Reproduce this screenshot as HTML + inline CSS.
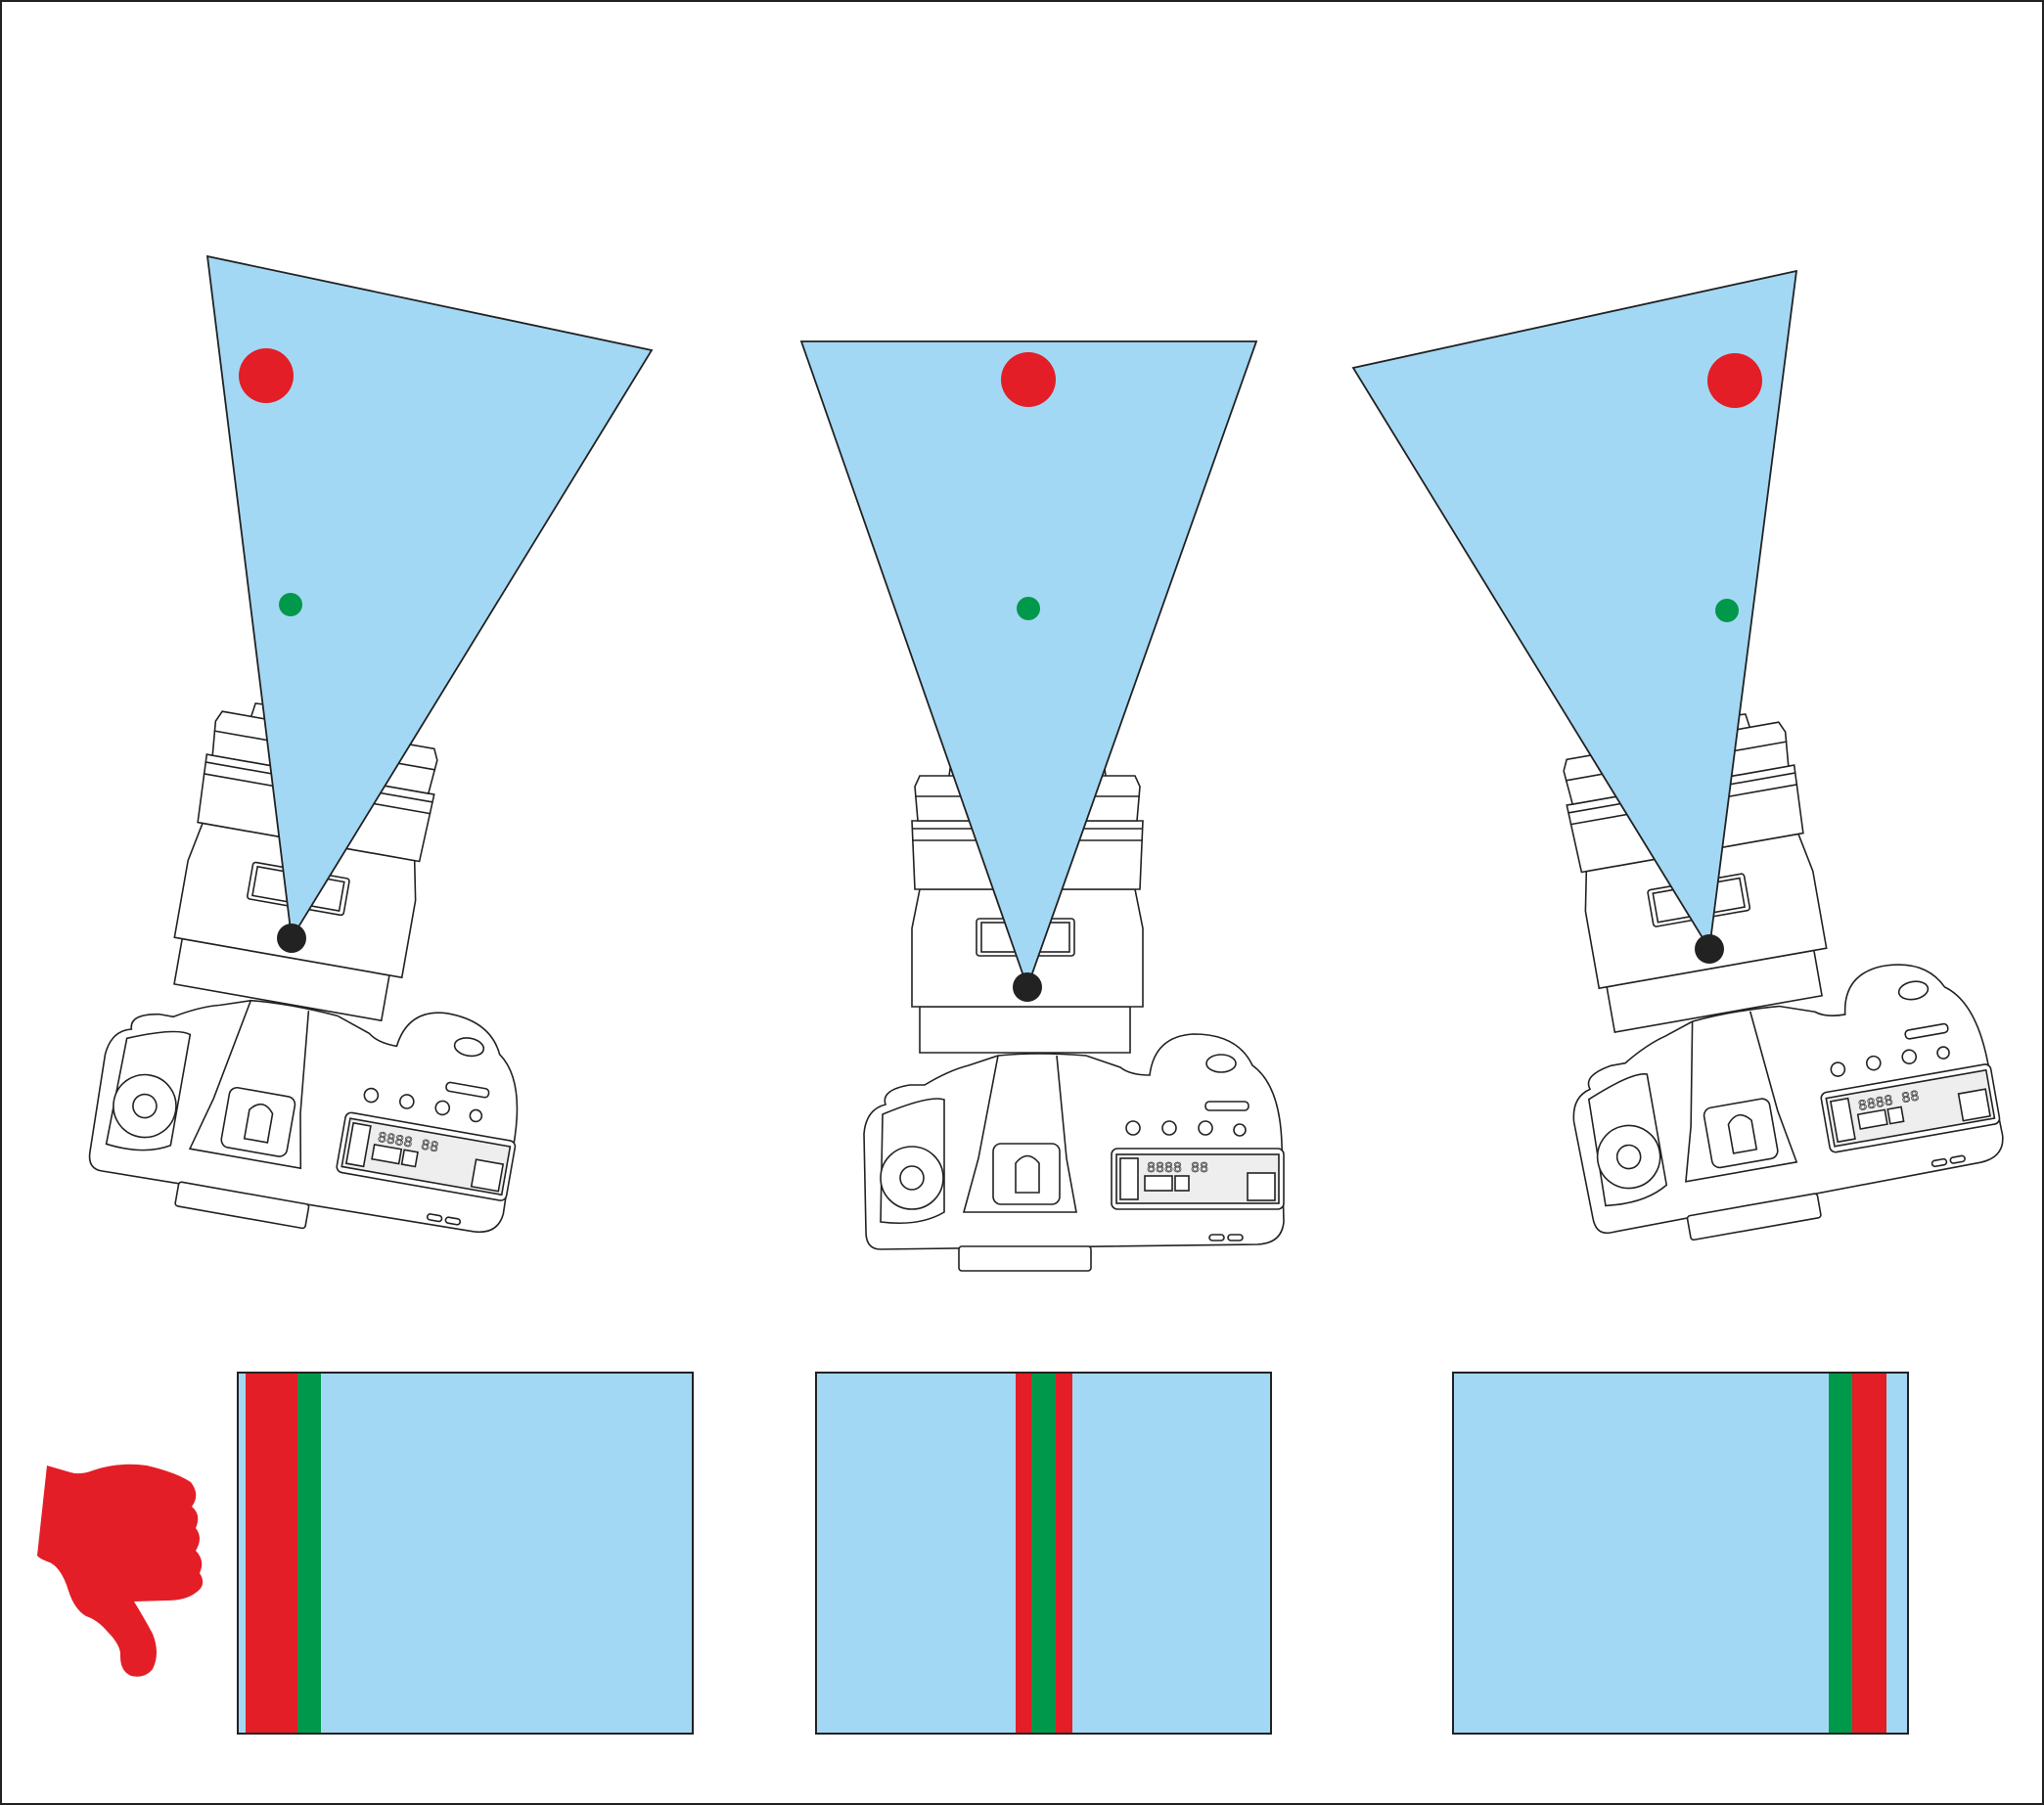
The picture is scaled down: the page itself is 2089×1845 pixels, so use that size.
<!DOCTYPE html>
<html><head><meta charset="utf-8"><style>
html,body{margin:0;padding:0;background:#fff}
svg{display:block}
</style></head><body>
<svg width="2089" height="1845" viewBox="0 0 2089 1845" xmlns="http://www.w3.org/2000/svg">
<defs>
<g id="cam" fill="#fff" stroke="#222" stroke-width="1.6">
  <path d="M-145,120 Q-150,105 -120,100 L-105,100 Q-80,85 -60,80 L-30,70 Q10,66 60,70 L95,82 Q105,90 125,90 Q130,50 170,48 Q215,48 230,80 Q258,100 260,160 L262,240 Q260,262 235,263 L-150,268 Q-165,268 -165,250 L-167,150 Q-165,125 -145,120 Z"/>
  <path d="M-148,130 Q-100,110 -85,115 L-85,230 Q-110,245 -150,240 Z" fill="none"/>
  <circle cx="-118" cy="195" r="32"/>
  <circle cx="-118" cy="195" r="12"/>
  <path d="M-30,70 L-50,175 L-65,230 L50,230 L40,175 L30,70" fill="none"/>
  <rect x="-35" y="160" width="68" height="62" rx="8"/>
  <path d="M-12,210 L-12,180 Q0,165 12,180 L12,210 Z"/>
  <rect x="86" y="165" width="176" height="62" rx="6"/>
  <rect x="91" y="171" width="166" height="50" fill="#eee"/>
  <rect x="95" y="175" width="18" height="42" fill="#fff"/>
  <rect x="120" y="193" width="28" height="15" fill="#fff"/>
  <rect x="151" y="193" width="14" height="15" fill="#fff"/>
  <rect x="225" y="190" width="28" height="28" fill="#fff"/>
  <text x="122" y="189" font-family="Liberation Mono, monospace" font-size="15" fill="none" stroke="#333" stroke-width="0.7">8888 88</text>
  <rect x="182" y="117" width="44" height="9" rx="4"/>
  <ellipse cx="198" cy="78" rx="15" ry="9"/>
  <circle cx="108" cy="144" r="7"/><circle cx="145" cy="144" r="7"/>
  <circle cx="182" cy="144" r="7"/><circle cx="217" cy="146" r="6"/>
  <rect x="-70" y="265" width="135" height="25" rx="3"/>
  <rect x="186" y="253" width="15" height="6" rx="3"/><rect x="205" y="253" width="15" height="6" rx="3"/>
  <path d="M-110,67 L-110,20 L105,20 L105,67 Z"/>
  <path d="M-118,20 L-118,-60 L-110,-100 L110,-100 L118,-60 L118,20 Z"/>
  <rect x="-52" y="-70" width="100" height="38" rx="3"/>
  <rect x="-47" y="-66" width="90" height="30" fill="none"/>
  <path d="M-115,-100 L-118,-170 L118,-170 L115,-100 Z"/>
  <path d="M-118,-150 L118,-150 M-118,-162 L118,-162" fill="none"/>
  <path d="M-112,-170 L-115,-205 L-110,-216 L110,-216 L115,-205 L112,-170 Z"/>
  <path d="M-115,-195 L115,-195" fill="none"/>
  <path d="M-80,-216 L-78,-230 L-40,-232 L-40,-216 M40,-216 L40,-232 L78,-230 L80,-216" fill="none"/>
</g>
</defs>
<rect x="1" y="1" width="2087" height="1843" fill="#fff" stroke="#222" stroke-width="2"/>
<use href="#cam" transform="translate(298,959) rotate(10)"/>
<use href="#cam" transform="translate(1050,1009)"/>
<use href="#cam" transform="translate(1747,970) rotate(-10)"/>
<g stroke="#222" stroke-width="1.8" fill="#a3d8f4">
<polygon points="212,262 666,358 298,959"/>
<polygon points="819,349 1284,349 1050,1009"/>
<polygon points="1383,376 1836,277 1747,970"/>
</g>
<g fill="#e31e26"><circle cx="272" cy="384" r="28"/><circle cx="1051" cy="388" r="28"/><circle cx="1773" cy="389" r="28"/></g>
<g fill="#00984a"><circle cx="297" cy="618" r="12"/><circle cx="1051" cy="622" r="12"/><circle cx="1765" cy="624" r="12"/></g>
<g fill="#222"><circle cx="298" cy="959" r="15"/><circle cx="1050" cy="1009" r="15"/><circle cx="1747" cy="970" r="15"/></g>
<g stroke="#222" stroke-width="2">
<rect x="243" y="1403" width="465" height="369" fill="#a3d8f4"/>
<rect x="834" y="1403" width="465" height="369" fill="#a3d8f4"/>
<rect x="1485" y="1403" width="465" height="369" fill="#a3d8f4"/>
</g>
<rect x="251" y="1404" width="53" height="367" fill="#e31e26"/>
<rect x="304" y="1404" width="24" height="367" fill="#00984a"/>
<rect x="1038" y="1404" width="58" height="367" fill="#e31e26"/>
<rect x="1054" y="1404" width="25" height="367" fill="#00984a"/>
<rect x="1869" y="1404" width="24" height="367" fill="#00984a"/>
<rect x="1893" y="1404" width="35" height="367" fill="#e31e26"/>
<path fill="#e31e26" d="M48,1498 L72,1505 Q82,1508 95,1503 Q120,1494 150,1498 Q180,1505 195,1515 Q205,1528 196,1540 Q206,1548 200,1562 Q208,1572 200,1585 Q210,1595 204,1608 Q212,1620 200,1628 Q190,1636 170,1636 L137,1637 Q148,1655 156,1670 Q164,1690 156,1706 Q148,1716 134,1713 Q122,1708 123,1690 Q122,1680 110,1668 Q100,1656 88,1652 Q76,1645 70,1626 Q62,1600 48,1596 Q40,1593 38,1590 Z"/>
</svg>
</body></html>
